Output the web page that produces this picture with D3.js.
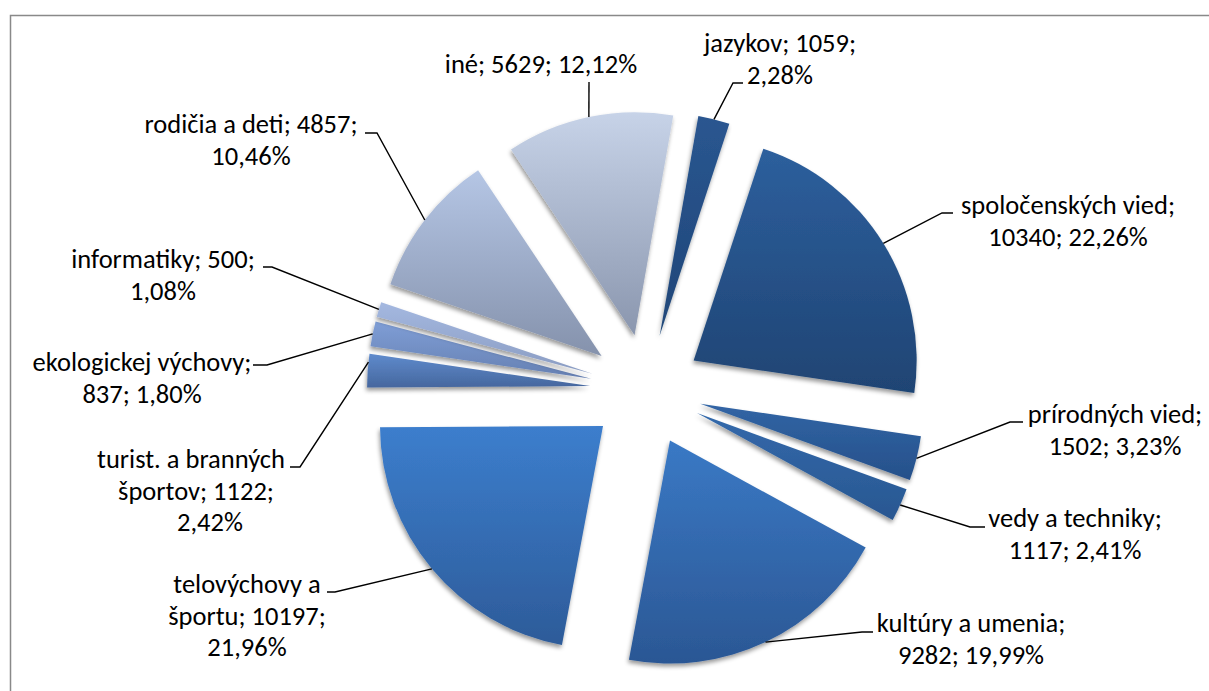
<!DOCTYPE html>
<html>
<head>
<meta charset="utf-8">
<script src="https://cdn.jsdelivr.net/npm/d3@7"></script>
<style>
  html, body { margin: 0; padding: 0; background: #fff; }
  svg { display: block; }
  text { font-family: Carlito, Calibri, Lato, sans-serif; fill: #000; }
</style>
</head>
<body>
<svg id="chart" width="1209" height="691"></svg>
<script>
// Data: number of interest groups by focus area
const categories = [
  "jazykov", "spoločenských vied", "prírodných vied", "vedy a techniky",
  "kultúry a umenia", "telovýchovy a športu", "turist. a branných športov",
  "ekologickej výchovy", "informatiky", "rodičia a deti", "iné"
];
const counts = [1059, 10340, 1502, 1117, 9282, 10197, 1122, 837, 500, 4857, 5629];

// Slice fills: vertical gradient, lighter on top, darker on bottom
const fillTop    = ["#2a5690", "#2d5f9d", "#3165a5", "#3369ab", "#3a79c5", "#3c7ecd",
                    "#5f8bcd", "#7f9ed6", "#a4b8e0", "#b5c6e5", "#c7d3e8"];
const fillBottom = ["#1f4678", "#1f4473", "#26508a", "#295791", "#2b5794", "#2d5b99",
                    "#46679e", "#6680b2", "#8a9cc2", "#8592ac", "#8a96ae"];

// Label placement: centre x (per line), first baseline, words per line,
// leader elbow points, and where along the slice's outer arc the leader meets it
const labelLayout = [
  { x: [780],           y: 52,  split: [2, 1],    elbow: [[743, 83], [733, 83]],   at: 0.5 },
  { x: [1068],          y: 214, split: [2, 2],    elbow: [[953, 213], [942, 213]], at: 0.5 },
  { x: [1115],          y: 423, split: [2, 2],    elbow: [[1023, 422], [1010, 422]], at: 0.5 },
  { x: [1075],          y: 527, split: [3, 2],    elbow: [[985, 527], [970, 527]], at: 0.5 },
  { x: [971],           y: 632, split: [3, 2],    elbow: [[873, 632], [862, 632]], at: 0.5 },
  { x: [247],           y: 593, split: [2, 2, 1], elbow: [[327, 592], [335, 592]], at: 0.5 },
  { x: [191, 196, 210], y: 468, split: [3, 2, 1], elbow: [[290, 467], [300, 467]], at: 0.75 },
  { x: [142],           y: 371, split: [2, 2],    elbow: [[253, 365], [267, 365]], at: 0.5 },
  { x: [163],           y: 268, split: [2, 1],    elbow: [[263, 267], [272, 267]], at: 0.5 },
  { x: [251],           y: 133, split: [4, 1],    elbow: [[365, 133], [377, 133]], at: 0.5 },
  { x: [541],           y: 73,  split: [3],       elbow: [[589, 82]],              at: 0.5 }
];

const W = 1209, H = 691;
const cx = 646, cy = 390;
const radius = 223;
const explode = 56;
const lineStep = 31.5;
const fontSize = 26.5;

const locale = d3.formatLocale({ decimal: ",", thousands: " ", grouping: [3], currency: ["", " €"] });
const fmtPct = locale.format(".2%");
const total = d3.sum(counts);

const svg = d3.select("#chart");

// Chart area border
svg.append("rect")
  .attr("x", 10.5).attr("y", 15.5)
  .attr("width", W + 20).attr("height", H + 20)
  .attr("fill", "#fff")
  .attr("stroke", "#898989")
  .attr("stroke-width", 1.5);

const defs = svg.append("defs");

const shadow = defs.append("filter")
  .attr("id", "sliceShadow")
  .attr("x", "-20%").attr("y", "-20%")
  .attr("width", "140%").attr("height", "140%");
shadow.append("feDropShadow")
  .attr("dx", -1).attr("dy", 3)
  .attr("stdDeviation", 2.2)
  .attr("flood-color", "#000")
  .attr("flood-opacity", 0.4);

categories.forEach((c, i) => {
  const g = defs.append("linearGradient")
    .attr("id", "grad" + i)
    .attr("x1", 0).attr("y1", 0).attr("x2", 0).attr("y2", 1);
  g.append("stop").attr("offset", "0%").attr("stop-color", fillTop[i]);
  g.append("stop").attr("offset", "100%").attr("stop-color", fillBottom[i]);
});

const startAngle = 10 * Math.PI / 180;
const pie = d3.pie()
  .sort(null)
  .value(d => d.count)
  .startAngle(startAngle)
  .endAngle(startAngle + 2 * Math.PI);

const rows = categories.map((name, i) => ({ name, count: counts[i], index: i }));
const arcs = pie(rows);

const arc = d3.arc().innerRadius(0).outerRadius(radius);

const midAngle = a => (a.startAngle + a.endAngle) / 2;
const polar = (angle, dist) => [Math.sin(angle) * dist, -Math.cos(angle) * dist];

const pieG = svg.append("g").attr("transform", `translate(${cx},${cy})`);

pieG.selectAll("path.slice")
  .data(arcs)
  .join("path")
  .attr("class", "slice")
  .attr("transform", d => {
    const [dx, dy] = polar(midAngle(d), explode);
    return `translate(${dx},${dy})`;
  })
  .attr("d", arc)
  .attr("fill", d => `url(#grad${d.data.index})`)
  .attr("filter", "url(#sliceShadow)");

// Leader lines from the label to the slice's outer arc
const leaderG = svg.append("g");
arcs.forEach(a => {
  const L = labelLayout[a.data.index];
  const [ox, oy] = polar(midAngle(a), explode);
  const ang = a.startAngle + (a.endAngle - a.startAngle) * L.at;
  const [rx, ry] = polar(ang, radius);
  const pts = L.elbow.concat([[cx + ox + rx, cy + oy + ry]]);
  leaderG.append("path")
    .attr("d", d3.line()(pts))
    .attr("fill", "none")
    .attr("stroke", "#000")
    .attr("stroke-width", 1.4);
});

// Data labels: "name; count; percent", wrapped by word counts
const labelG = svg.append("g").attr("font-size", fontSize);
arcs.forEach(a => {
  const i = a.data.index;
  const L = labelLayout[i];
  const full = `${a.data.name}; ${a.data.count}; ${fmtPct(a.data.count / total)}`;
  const words = full.split(" ");
  let k = 0;
  const lines = L.split.map(n => {
    const s = words.slice(k, k + n).join(" ");
    k += n;
    return s;
  });
  const t = labelG.append("text").attr("text-anchor", "middle");
  lines.forEach((s, j) => {
    t.append("tspan")
      .attr("x", L.x[Math.min(j, L.x.length - 1)])
      .attr("y", L.y + j * lineStep)
      .text(s);
  });
});
</script>
</body>
</html>
